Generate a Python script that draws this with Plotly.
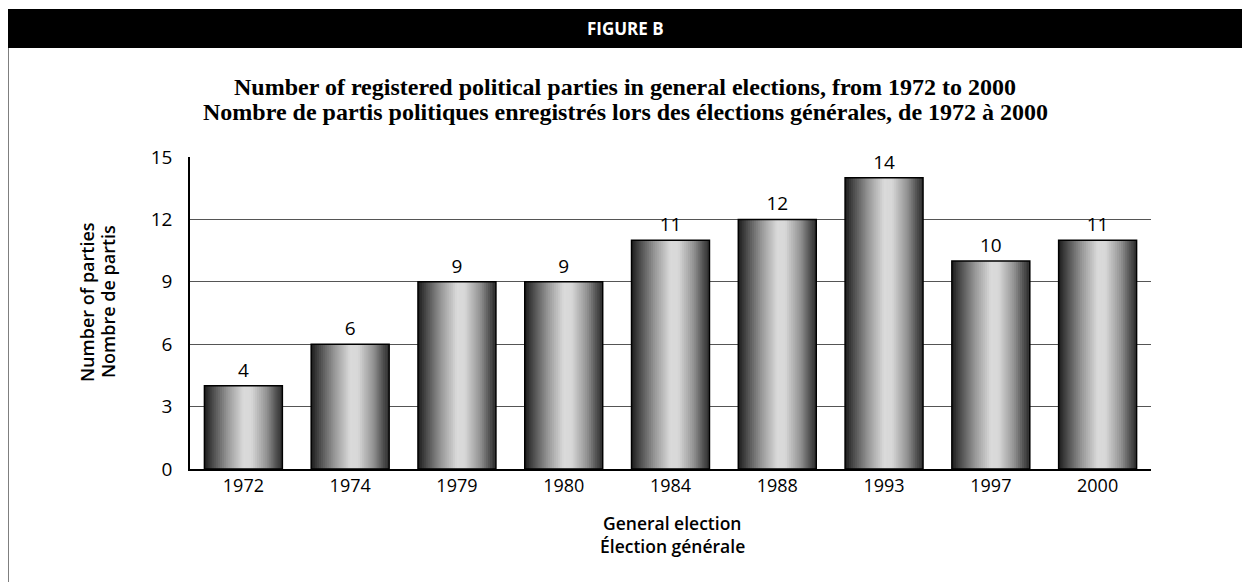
import plotly.graph_objects as go

years = ["1972", "1974", "1979", "1980", "1984", "1988", "1993", "1997", "2000"]
parties = [4, 6, 9, 9, 11, 12, 14, 10, 11]
y_ticks = [0, 3, 6, 9, 12, 15]

title_en = "Number of registered political parties in general elections, from 1972 to 2000"
title_fr = "Nombre de partis politiques enregistrés lors des élections générales, de 1972 à 2000"

# the page body adds an 8px margin, so the figure is shifted back by that much
OFF = 8
W, H = 1250 - OFF, 582 - OFF
L, R, T, B = 190 - OFF, 1151 - OFF, 157 - OFF, 469 - OFF
BAR_W = 0.73
N_STRIPS = 40

# grey level across the cylinder, left edge -> right edge
stops = [(0.0, 0x1c), (0.1, 0x48), (0.3, 0x98), (0.5, 0xda), (0.6, 0xd8), (0.8, 0x92), (0.93, 0x4c), (1.0, 0x30)]


def grey(t):
    for (t0, g0), (t1, g1) in zip(stops, stops[1:]):
        if t <= t1:
            g = round(g0 + (g1 - g0) * (t - t0) / (t1 - t0))
            return f"rgb({g},{g},{g})"
    return "rgb(48,48,48)"


# reference-image pixel -> paper coordinate
def px_x(p):
    return (p - OFF - L) / (R - L)


def px_y(p):
    return (B - (p - OFF)) / (B - T)


font = "Open Sans"
WT = 600
fig = go.Figure()

sw = BAR_W / N_STRIPS
for i in range(N_STRIPS):
    fig.add_trace(go.Bar(
        x=years, y=parties, offset=-BAR_W / 2 + i * sw,
        width=min(sw * 1.6, BAR_W / 2 - (-BAR_W / 2 + i * sw)),
        marker=dict(color=grey((i + 0.5) / N_STRIPS), line=dict(width=0)),
        hoverinfo="skip", showlegend=False,
    ))

fig.add_trace(go.Bar(
    x=years, y=parties, width=BAR_W,
    marker=dict(color="rgba(0,0,0,0)", line=dict(color="black", width=1.5)),
    text=[str(v) for v in parties], textposition="outside", cliponaxis=False,
    textfont=dict(family=font, size=19, color="black"), showlegend=False,
))


def note(text, x, y, size, **kw):
    d = dict(text=text, xref="paper", yref="paper", x=px_x(x), y=px_y(y), showarrow=False,
             xanchor="center", yanchor="middle", font=dict(family=font, size=size, color="black", weight=WT))
    d.update(kw)
    return d


serif = dict(family="Liberation Serif", size=24, color="black", weight="bold")

fig.update_layout(
    width=W, height=H, barmode="overlay",
    margin=dict(l=L, r=W - R, t=T, b=H - B),
    paper_bgcolor="white", plot_bgcolor="white",
    font=dict(family=font, color="black"),
    xaxis=dict(type="category", showline=True, linecolor="black", linewidth=1.5,
               showgrid=False, ticks="", tickfont=dict(size=18, color="black")),
    yaxis=dict(range=[0, 15], tickvals=y_ticks, showline=True, linecolor="black", linewidth=1.5,
               showgrid=True, gridcolor="#555555", gridwidth=1, ticks="", zeroline=False,
               tickfont=dict(size=19, color="black"), ticklabelstandoff=12),
    shapes=[
        dict(type="rect", xref="paper", yref="paper", x0=px_x(7), x1=px_x(1260), y0=px_y(48), y1=px_y(9),
             fillcolor="black", line=dict(width=0), layer="above"),
        dict(type="line", xref="paper", yref="paper", x0=px_x(7.5), x1=px_x(7.5), y0=px_y(48), y1=px_y(600),
             line=dict(color="black", width=2)),
    ],
    annotations=[
        note("FIGURE B", 625, 29, 17, font=dict(family=font, size=17, color="white", weight="bold")),
        note(title_en, 625, 87, 24, font=serif),
        note(title_fr, 625, 112, 24, font=serif),
        note("Number of parties", 87, 302, 18, textangle=-90),
        note("Nombre de partis", 108, 302, 18, textangle=-90),
        note("General election", 672, 523, 17.5),
        note("Élection générale", 672, 546, 17.5),
    ],
)

fig.write_html("out.html")
